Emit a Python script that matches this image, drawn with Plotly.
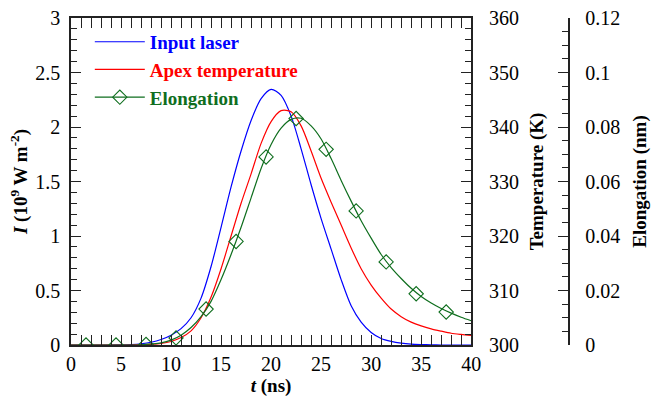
import plotly.graph_objects as go

# ---- data ----
t = list(range(0, 41))
laser_I = [0, 0, 0, 0, 0, 0.001, 0.004, 0.011, 0.025, 0.05, 0.09, 0.15, 0.25, 0.43, 0.72, 1.08,
           1.45, 1.78, 2.06, 2.26, 2.345, 2.29, 2.10, 1.80, 1.47, 1.16, 0.88, 0.60, 0.36, 0.21,
           0.115, 0.06, 0.033, 0.017, 0.008, 0.004, 0.0015, 0, 0, 0, 0]
apex_T = [300, 300, 300, 300, 300, 300, 300, 300.04, 300.12, 300.28, 300.64, 301.36, 302.6, 305.0,
          308.8, 314.0, 320.0, 326.0, 331.4, 337.0, 341.0, 343.0, 342.8, 340.2, 335.6, 330.6,
          326.2, 322.0, 317.8, 314.0, 311.0, 308.6, 306.6, 305.2, 304.2, 303.5, 302.96, 302.54,
          302.16, 301.94, 301.76]
elong_nm = [0, 0, 0, 0, 0, 0, 0, 0.0001, 0.0004, 0.0008, 0.0018, 0.0036, 0.0064, 0.0104, 0.016,
            0.024, 0.0332, 0.0432, 0.054, 0.0648, 0.0736, 0.0796, 0.0828, 0.0832, 0.0804, 0.0756,
            0.0684, 0.0604, 0.0528, 0.0456, 0.0392, 0.0332, 0.0284, 0.0244, 0.0208, 0.0178,
            0.0154, 0.0134, 0.0117, 0.0102, 0.0089]
marker_t = [1.5, 4.5, 7.5, 10.5, 13.5, 16.5, 19.5, 22.5, 25.5, 28.5, 31.5, 34.5, 37.5]
marker_nm = [0, 0, 0.0002, 0.0026, 0.0132, 0.038, 0.069, 0.0831, 0.0718, 0.0492, 0.0305, 0.0188, 0.0121]

BLUE = "#0000ff"
RED = "#ff0000"
GREEN = "#0f6e1e"
FONT = "Liberation Serif, Times New Roman, serif"
AX = "#222222"

fig = go.Figure()
fig.add_trace(go.Scatter(x=t, y=laser_I, mode="lines", line=dict(color=BLUE, width=1.2, shape="spline", smoothing=0.8),
                         name="<span style='color:#0000ff'><b>Input laser</b></span>"))
fig.add_trace(go.Scatter(x=t, y=apex_T, mode="lines", yaxis="y2", line=dict(color=RED, width=1.2, shape="spline", smoothing=0.8),
                         name="<span style='color:#ff0000'><b>Apex temperature</b></span>"))
fig.add_trace(go.Scatter(x=t, y=elong_nm, mode="lines", yaxis="y3", line=dict(color=GREEN, width=1.2, shape="spline", smoothing=0.8),
                         showlegend=False))
fig.add_trace(go.Scatter(x=marker_t, y=marker_nm, mode="markers", yaxis="y3",
                         marker=dict(symbol="diamond-open", size=11, color=GREEN, line=dict(width=1.1, color=GREEN)),
                         showlegend=False))
fig.add_trace(go.Scatter(x=[-100], y=[-1], mode="lines+markers", yaxis="y3",
                         line=dict(color=GREEN, width=1.2),
                         marker=dict(symbol="diamond-open", size=11, color=GREEN, line=dict(width=1.1, color=GREEN)),
                         name="<span style='color:#0f6e1e'><b>Elongation</b></span>"))

W = 669
L = 71
plotw = 407
paperw = W - L
xd = plotw / paperw

tickfont = dict(family=FONT, size=20, color="black")
titlefont = dict(family=FONT, size=19, color="black")

fig.update_layout(
    width=669, height=398,
    margin=dict(l=L, r=0, t=18, b=53),
    paper_bgcolor="white", plot_bgcolor="white",
    font=dict(family=FONT, size=19, color="black"),
    showlegend=True,
    legend=dict(x=0.032, y=0.985, xanchor="left", yanchor="top", bgcolor="rgba(0,0,0,0)",
                font=dict(family=FONT, size=19), itemwidth=50, tracegroupgap=0),
    xaxis=dict(domain=[0, xd], range=[0, 40], dtick=5, tick0=0, ticks="inside", ticklen=10, tickwidth=1,
               tickcolor=AX, showline=True, linecolor=AX, linewidth=1.5, mirror="allticks",
               showgrid=False, zeroline=False, tickfont=tickfont,
               minor=dict(dtick=1, ticks="inside", ticklen=6, tickcolor=AX, showgrid=False),
               title=dict(text="<b><i>t</i> (ns)</b>", font=titlefont, standoff=4)),
    yaxis=dict(range=[0, 3], dtick=0.5, ticks="inside", ticklen=10, tickcolor=AX, showline=True,
               linecolor=AX, linewidth=1.5, showgrid=False, zeroline=False, tickfont=tickfont,
               ticklabelstandoff=5,
               minor=dict(dtick=0.1, ticks="inside", ticklen=6, tickcolor=AX, showgrid=False),
               title=dict(text="<b><i>I</i> (10<sup>9</sup> W m<sup>-2</sup>)</b>", font=titlefont, standoff=3)),
    yaxis2=dict(range=[300, 360], dtick=10, overlaying="y", side="right", anchor="x", ticks="inside",
                ticklen=10, tickcolor=AX, showline=True, linecolor=AX, linewidth=1.5, showgrid=False,
                zeroline=False, tickfont=tickfont, ticklabelstandoff=12,
                minor=dict(dtick=2, ticks="inside", ticklen=6, tickcolor=AX, showgrid=False),
                title=dict(text="<b>Temperature (K)</b>", font=titlefont, standoff=12)),
    yaxis3=dict(range=[0, 0.12], dtick=0.02, overlaying="y", side="right", anchor="free",
                position=(577 - L) / paperw, ticks="inside", ticklen=10, tickcolor=AX, showline=True,
                linecolor=AX, linewidth=1.5, showgrid=False, zeroline=False, tickfont=tickfont,
                ticklabelstandoff=12,
                minor=dict(dtick=0.005, ticks="inside", ticklen=6, tickcolor=AX, showgrid=False),
                title=dict(text="<b>Elongation (nm)</b>", font=titlefont, standoff=12)),
)

fig.write_html("out.html")
